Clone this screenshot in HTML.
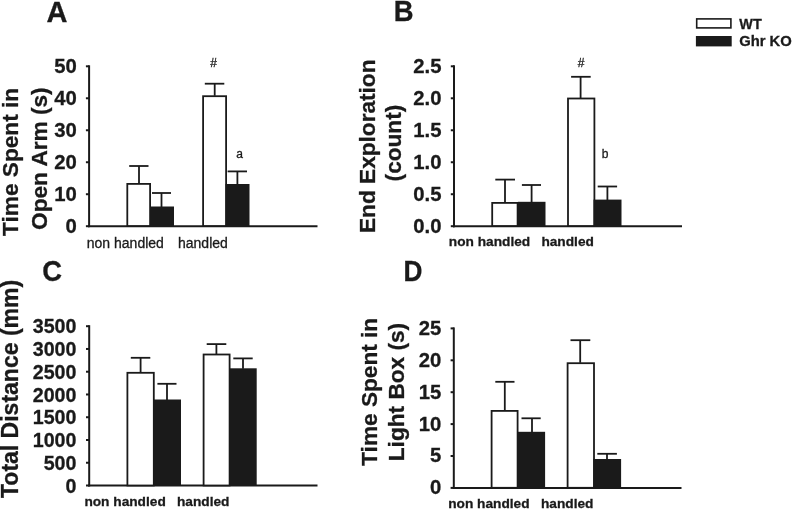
<!DOCTYPE html>
<html lang="en">
<head>
<meta charset="utf-8">
<title>Figure</title>
<style>
html,body{margin:0;padding:0;background:#fff;}
body{width:794px;height:510px;overflow:hidden;}
svg{display:block;filter:grayscale(1);}
svg text{font-family:"Liberation Sans", Arial, Helvetica, sans-serif;fill:#1a1a1a;stroke:#1a1a1a;stroke-width:0.3px;}
</style>
</head>
<body>
<svg width="794" height="510" viewBox="0 0 794 510">
<rect x="0" y="0" width="794" height="510" fill="#ffffff"/>
<line x1="89.1" y1="65.3" x2="89.1" y2="227.2" stroke="#1a1a1a" stroke-width="2.0"/>
<line x1="88.1" y1="226.2" x2="317.5" y2="226.2" stroke="#1a1a1a" stroke-width="2.0"/>
<line x1="85.89999999999999" y1="226.2" x2="89.1" y2="226.2" stroke="#1a1a1a" stroke-width="2.0"/>
<text x="76.7" y="232.67" font-size="20.3" font-weight="bold" text-anchor="end">0</text>
<line x1="85.89999999999999" y1="194.22" x2="89.1" y2="194.22" stroke="#1a1a1a" stroke-width="2.0"/>
<text x="76.7" y="200.69" font-size="20.3" font-weight="bold" text-anchor="end">10</text>
<line x1="85.89999999999999" y1="162.24" x2="89.1" y2="162.24" stroke="#1a1a1a" stroke-width="2.0"/>
<text x="76.7" y="168.71" font-size="20.3" font-weight="bold" text-anchor="end">20</text>
<line x1="85.89999999999999" y1="130.26" x2="89.1" y2="130.26" stroke="#1a1a1a" stroke-width="2.0"/>
<text x="76.7" y="136.73" font-size="20.3" font-weight="bold" text-anchor="end">30</text>
<line x1="85.89999999999999" y1="98.28" x2="89.1" y2="98.28" stroke="#1a1a1a" stroke-width="2.0"/>
<text x="76.7" y="104.75" font-size="20.3" font-weight="bold" text-anchor="end">40</text>
<line x1="85.89999999999999" y1="66.30000000000001" x2="89.1" y2="66.30000000000001" stroke="#1a1a1a" stroke-width="2.0"/>
<text x="76.7" y="72.77" font-size="20.3" font-weight="bold" text-anchor="end">50</text>
<rect x="127.30000000000001" y="183.9" width="22.799999999999994" height="42.1" fill="#fff" stroke="#1a1a1a" stroke-width="1.8"/>
<line x1="139.0" y1="166.0" x2="139.0" y2="183.5" stroke="#1a1a1a" stroke-width="1.8"/>
<line x1="129.2" y1="166.0" x2="148.5" y2="166.0" stroke="#1a1a1a" stroke-width="1.8"/>
<rect x="150.0" y="206.5" width="24.0" height="19.5" fill="#1a1a1a"/>
<line x1="161.5" y1="193.0" x2="161.5" y2="207.0" stroke="#1a1a1a" stroke-width="1.8"/>
<line x1="152.0" y1="193.0" x2="171.0" y2="193.0" stroke="#1a1a1a" stroke-width="1.8"/>
<rect x="203.1" y="96.2" width="23.00000000000001" height="129.79999999999998" fill="#fff" stroke="#1a1a1a" stroke-width="1.8"/>
<line x1="214.7" y1="83.7" x2="214.7" y2="95.8" stroke="#1a1a1a" stroke-width="1.8"/>
<line x1="204.8" y1="83.7" x2="224.3" y2="83.7" stroke="#1a1a1a" stroke-width="1.8"/>
<rect x="225.5" y="184.0" width="24.0" height="42.0" fill="#1a1a1a"/>
<line x1="237.4" y1="171.4" x2="237.4" y2="184.5" stroke="#1a1a1a" stroke-width="1.8"/>
<line x1="227.6" y1="171.4" x2="247.0" y2="171.4" stroke="#1a1a1a" stroke-width="1.8"/>
<text x="213.7" y="66.6" font-size="12" font-weight="normal" text-anchor="middle">#</text>
<text x="239.5" y="157.8" font-size="12" font-weight="normal" text-anchor="middle">a</text>
<text x="86.8" y="248.3" font-size="14.0" font-weight="normal" text-anchor="start">non handled</text>
<text x="178.0" y="248.3" font-size="14.0" font-weight="normal" text-anchor="start">handled</text>
<text transform="translate(18.1 235.9) rotate(-90) scale(1.002 1)" x="0" y="0" font-size="22.6" font-weight="bold">Time Spent in</text>
<text transform="translate(46.8 229.9) rotate(-90) scale(1.002 1)" x="0" y="0" font-size="22.6" font-weight="bold">Open Arm (s)</text>
<text x="46.4" y="21.6" font-size="29" font-weight="bold" text-anchor="start">A</text>
<line x1="454.0" y1="65.3" x2="454.0" y2="227.2" stroke="#1a1a1a" stroke-width="2.0"/>
<line x1="453.0" y1="226.2" x2="682.0" y2="226.2" stroke="#1a1a1a" stroke-width="2.0"/>
<line x1="450.8" y1="226.2" x2="454.0" y2="226.2" stroke="#1a1a1a" stroke-width="2.0"/>
<text x="441.5" y="232.67" font-size="20.3" font-weight="bold" text-anchor="end">0.0</text>
<line x1="450.8" y1="194.22" x2="454.0" y2="194.22" stroke="#1a1a1a" stroke-width="2.0"/>
<text x="441.5" y="200.69" font-size="20.3" font-weight="bold" text-anchor="end">0.5</text>
<line x1="450.8" y1="162.24" x2="454.0" y2="162.24" stroke="#1a1a1a" stroke-width="2.0"/>
<text x="441.5" y="168.71" font-size="20.3" font-weight="bold" text-anchor="end">1.0</text>
<line x1="450.8" y1="130.26" x2="454.0" y2="130.26" stroke="#1a1a1a" stroke-width="2.0"/>
<text x="441.5" y="136.73" font-size="20.3" font-weight="bold" text-anchor="end">1.5</text>
<line x1="450.8" y1="98.28" x2="454.0" y2="98.28" stroke="#1a1a1a" stroke-width="2.0"/>
<text x="441.5" y="104.75" font-size="20.3" font-weight="bold" text-anchor="end">2.0</text>
<line x1="450.8" y1="66.30000000000001" x2="454.0" y2="66.30000000000001" stroke="#1a1a1a" stroke-width="2.0"/>
<text x="441.5" y="72.77" font-size="20.3" font-weight="bold" text-anchor="end">2.5</text>
<rect x="492.2" y="202.9" width="25.399999999999988" height="23.1" fill="#fff" stroke="#1a1a1a" stroke-width="1.8"/>
<line x1="505.0" y1="179.6" x2="505.0" y2="202.5" stroke="#1a1a1a" stroke-width="1.8"/>
<line x1="495.3" y1="179.6" x2="515.0" y2="179.6" stroke="#1a1a1a" stroke-width="1.8"/>
<rect x="517.9" y="201.8" width="27.600000000000023" height="24.19999999999999" fill="#1a1a1a"/>
<line x1="531.6" y1="185.0" x2="531.6" y2="202.3" stroke="#1a1a1a" stroke-width="1.8"/>
<line x1="521.9" y1="185.0" x2="541.0" y2="185.0" stroke="#1a1a1a" stroke-width="1.8"/>
<rect x="568.0" y="98.5" width="26.39999999999993" height="127.5" fill="#fff" stroke="#1a1a1a" stroke-width="1.8"/>
<line x1="580.6" y1="76.8" x2="580.6" y2="98.1" stroke="#1a1a1a" stroke-width="1.8"/>
<line x1="571.1" y1="76.8" x2="590.7" y2="76.8" stroke="#1a1a1a" stroke-width="1.8"/>
<rect x="593.5" y="199.6" width="28.0" height="26.400000000000006" fill="#1a1a1a"/>
<line x1="607.4" y1="186.5" x2="607.4" y2="200.1" stroke="#1a1a1a" stroke-width="1.8"/>
<line x1="597.7" y1="186.5" x2="617.1" y2="186.5" stroke="#1a1a1a" stroke-width="1.8"/>
<text x="581.2" y="66.6" font-size="12" font-weight="normal" text-anchor="middle">#</text>
<text x="605.0" y="157.8" font-size="12" font-weight="normal" text-anchor="middle">b</text>
<text x="448.8" y="246.0" font-size="13.7" font-weight="bold" text-anchor="start">non handled</text>
<text x="541.4" y="246.0" font-size="13.7" font-weight="bold" text-anchor="start">handled</text>
<text transform="translate(393.8 21.4) scale(0.96 1)" font-size="28.6" font-weight="bold">B</text>
<line x1="89.2" y1="325.2" x2="89.2" y2="486.5" stroke="#1a1a1a" stroke-width="2.0"/>
<line x1="88.2" y1="485.5" x2="317.5" y2="485.5" stroke="#1a1a1a" stroke-width="2.0"/>
<line x1="86.0" y1="485.5" x2="89.2" y2="485.5" stroke="#1a1a1a" stroke-width="2.0"/>
<text transform="translate(76.4 492.65) scale(0.945 1)" x="0" y="0" font-size="20.8" font-weight="bold" text-anchor="end">0</text>
<line x1="86.0" y1="462.74285714285713" x2="89.2" y2="462.74285714285713" stroke="#1a1a1a" stroke-width="2.0"/>
<text transform="translate(76.4 469.89) scale(0.945 1)" x="0" y="0" font-size="20.8" font-weight="bold" text-anchor="end">500</text>
<line x1="86.0" y1="439.98571428571427" x2="89.2" y2="439.98571428571427" stroke="#1a1a1a" stroke-width="2.0"/>
<text transform="translate(76.4 447.13) scale(0.945 1)" x="0" y="0" font-size="20.8" font-weight="bold" text-anchor="end">1000</text>
<line x1="86.0" y1="417.2285714285714" x2="89.2" y2="417.2285714285714" stroke="#1a1a1a" stroke-width="2.0"/>
<text transform="translate(76.4 424.37) scale(0.945 1)" x="0" y="0" font-size="20.8" font-weight="bold" text-anchor="end">1500</text>
<line x1="86.0" y1="394.47142857142853" x2="89.2" y2="394.47142857142853" stroke="#1a1a1a" stroke-width="2.0"/>
<text transform="translate(76.4 401.62) scale(0.945 1)" x="0" y="0" font-size="20.8" font-weight="bold" text-anchor="end">2000</text>
<line x1="86.0" y1="371.71428571428567" x2="89.2" y2="371.71428571428567" stroke="#1a1a1a" stroke-width="2.0"/>
<text transform="translate(76.4 378.86) scale(0.945 1)" x="0" y="0" font-size="20.8" font-weight="bold" text-anchor="end">2500</text>
<line x1="86.0" y1="348.95714285714286" x2="89.2" y2="348.95714285714286" stroke="#1a1a1a" stroke-width="2.0"/>
<text transform="translate(76.4 356.1) scale(0.945 1)" x="0" y="0" font-size="20.8" font-weight="bold" text-anchor="end">3000</text>
<line x1="86.0" y1="326.2" x2="89.2" y2="326.2" stroke="#1a1a1a" stroke-width="2.0"/>
<text transform="translate(76.4 333.35) scale(0.945 1)" x="0" y="0" font-size="20.8" font-weight="bold" text-anchor="end">3500</text>
<rect x="127.4" y="372.79999999999995" width="26.399999999999988" height="112.70000000000002" fill="#fff" stroke="#1a1a1a" stroke-width="1.8"/>
<line x1="140.6" y1="357.8" x2="140.6" y2="372.4" stroke="#1a1a1a" stroke-width="1.8"/>
<line x1="130.8" y1="357.8" x2="150.3" y2="357.8" stroke="#1a1a1a" stroke-width="1.8"/>
<rect x="153.3" y="399.5" width="27.69999999999999" height="86.0" fill="#1a1a1a"/>
<line x1="167.0" y1="383.8" x2="167.0" y2="400.0" stroke="#1a1a1a" stroke-width="1.8"/>
<line x1="157.4" y1="383.8" x2="176.5" y2="383.8" stroke="#1a1a1a" stroke-width="1.8"/>
<rect x="203.6" y="354.5" width="26.00000000000001" height="130.99999999999997" fill="#fff" stroke="#1a1a1a" stroke-width="1.8"/>
<line x1="216.4" y1="344.1" x2="216.4" y2="354.1" stroke="#1a1a1a" stroke-width="1.8"/>
<line x1="206.7" y1="344.1" x2="226.3" y2="344.1" stroke="#1a1a1a" stroke-width="1.8"/>
<rect x="229.3" y="368.3" width="27.399999999999977" height="117.19999999999999" fill="#1a1a1a"/>
<line x1="243.0" y1="358.4" x2="243.0" y2="368.8" stroke="#1a1a1a" stroke-width="1.8"/>
<line x1="233.3" y1="358.4" x2="252.7" y2="358.4" stroke="#1a1a1a" stroke-width="1.8"/>
<text x="84.4" y="505.7" font-size="13.7" font-weight="bold" text-anchor="start">non handled</text>
<text x="177.0" y="505.7" font-size="13.7" font-weight="bold" text-anchor="start">handled</text>
<text transform="translate(18.2 498.0) rotate(-90) scale(1.0 1)" x="0" y="0" font-size="23" font-weight="bold">Total Distance (mm)</text>
<text transform="translate(42.3 280.8) scale(0.95 1)" font-size="28.8" font-weight="bold">C</text>
<line x1="453.8" y1="327.4" x2="453.8" y2="488.9" stroke="#1a1a1a" stroke-width="2.0"/>
<line x1="452.8" y1="487.9" x2="681.5" y2="487.9" stroke="#1a1a1a" stroke-width="2.0"/>
<line x1="450.6" y1="487.9" x2="453.8" y2="487.9" stroke="#1a1a1a" stroke-width="2.0"/>
<text x="441.3" y="494.37" font-size="20.3" font-weight="bold" text-anchor="end">0</text>
<line x1="450.6" y1="456.0" x2="453.8" y2="456.0" stroke="#1a1a1a" stroke-width="2.0"/>
<text x="441.3" y="462.47" font-size="20.3" font-weight="bold" text-anchor="end">5</text>
<line x1="450.6" y1="424.09999999999997" x2="453.8" y2="424.09999999999997" stroke="#1a1a1a" stroke-width="2.0"/>
<text x="441.3" y="430.57" font-size="20.3" font-weight="bold" text-anchor="end">10</text>
<line x1="450.6" y1="392.2" x2="453.8" y2="392.2" stroke="#1a1a1a" stroke-width="2.0"/>
<text x="441.3" y="398.67" font-size="20.3" font-weight="bold" text-anchor="end">15</text>
<line x1="450.6" y1="360.29999999999995" x2="453.8" y2="360.29999999999995" stroke="#1a1a1a" stroke-width="2.0"/>
<text x="441.3" y="366.77" font-size="20.3" font-weight="bold" text-anchor="end">20</text>
<line x1="450.6" y1="328.4" x2="453.8" y2="328.4" stroke="#1a1a1a" stroke-width="2.0"/>
<text x="441.3" y="334.87" font-size="20.3" font-weight="bold" text-anchor="end">25</text>
<rect x="491.59999999999997" y="410.9" width="26.00000000000001" height="76.9" fill="#fff" stroke="#1a1a1a" stroke-width="1.8"/>
<line x1="504.8" y1="381.8" x2="504.8" y2="410.5" stroke="#1a1a1a" stroke-width="1.8"/>
<line x1="495.3" y1="381.8" x2="514.5" y2="381.8" stroke="#1a1a1a" stroke-width="1.8"/>
<rect x="517.3" y="431.8" width="27.800000000000068" height="56.0" fill="#1a1a1a"/>
<line x1="532.0" y1="418.3" x2="532.0" y2="432.3" stroke="#1a1a1a" stroke-width="1.8"/>
<line x1="521.5" y1="418.3" x2="540.7" y2="418.3" stroke="#1a1a1a" stroke-width="1.8"/>
<rect x="567.6" y="363.2" width="26.39999999999993" height="124.6" fill="#fff" stroke="#1a1a1a" stroke-width="1.8"/>
<line x1="580.2" y1="340.2" x2="580.2" y2="362.8" stroke="#1a1a1a" stroke-width="1.8"/>
<line x1="570.5" y1="340.2" x2="590.3" y2="340.2" stroke="#1a1a1a" stroke-width="1.8"/>
<rect x="593.3" y="459.0" width="27.800000000000068" height="28.80000000000001" fill="#1a1a1a"/>
<line x1="607.0" y1="453.8" x2="607.0" y2="459.5" stroke="#1a1a1a" stroke-width="1.8"/>
<line x1="597.3" y1="453.8" x2="616.9" y2="453.8" stroke="#1a1a1a" stroke-width="1.8"/>
<text x="448.2" y="507.8" font-size="13.7" font-weight="bold" text-anchor="start">non handled</text>
<text x="541.0" y="507.8" font-size="13.7" font-weight="bold" text-anchor="start">handled</text>
<text transform="translate(376.9 465.8) rotate(-90) scale(1.002 1)" x="0" y="0" font-size="22.6" font-weight="bold">Time Spent in</text>
<text transform="translate(404.3 461.2) rotate(-90) scale(1.002 1)" x="0" y="0" font-size="22.6" font-weight="bold">Light Box (s)</text>
<text transform="translate(403.6 281.3) scale(0.91 1)" font-size="28.8" font-weight="bold">D</text>
<text transform="translate(374.8 233.0) rotate(-90) scale(1.002 1)" x="0" y="0" font-size="22.6" font-weight="bold">End Exploration</text>
<text transform="translate(400.6 181.4) rotate(-90) scale(1.002 1)" x="0" y="0" font-size="22.6" font-weight="bold">(count)</text>
<rect x="696.7" y="18.9" width="34.2" height="9.0" fill="#fff" stroke="#1a1a1a" stroke-width="1.6"/>
<rect x="695.9" y="36.0" width="35.8" height="10.4" fill="#1a1a1a"/>
<text x="739.3" y="28.7" font-size="14.4" font-weight="bold" text-anchor="start">WT</text>
<text x="739.2" y="46.2" font-size="14.8" font-weight="bold" text-anchor="start">Ghr KO</text>
</svg>
</body>
</html>
